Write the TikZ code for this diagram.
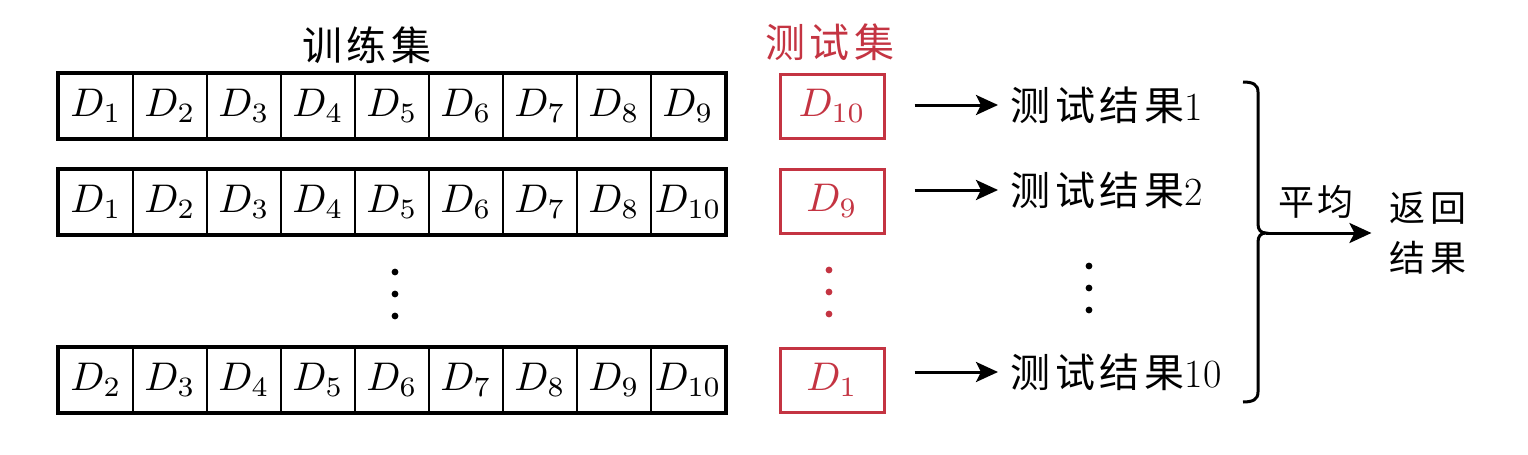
\documentclass[tikz,border=0pt]{standalone}
\usepackage{fontspec}
\newfontfamily\cjk[LetterSpace=12]{Noto Sans CJK SC}
\newfontfamily\cjkb[LetterSpace=6]{Noto Sans CJK SC}
\usetikzlibrary{arrows.meta}
\definecolor{tred}{RGB}{196,52,66}
\newcommand\Dsub[1]{\scalebox{2}{$D_{#1}$}}
\begin{document}
\begin{tikzpicture}[x=0.5pt,y=-0.5pt,
  cell/.style={draw,line width=1.4pt,minimum width=37pt,minimum height=32pt,inner sep=0pt},
  tbox/.style={draw=tred,text=tred,line width=1.5pt,minimum width=52pt,minimum height=32pt,inner sep=0pt},
  res/.style={anchor=west,inner sep=0pt,font=\fontsize{20}{24}\cjk},
  ttl/.style={inner sep=0pt,font=\fontsize{20}{24}\cjk},
  arr/.style={line width=1.5pt,-{Stealth[length=11pt,width=10pt,inset=2.5pt]}},
  dot/.style={circle,fill,inner sep=0pt,minimum size=3.4pt},
  brc/.style={line width=1.5pt}]
\useasboundingbox (0,0) rectangle (1528,455);
% titles
\node[ttl] (train) at (367,45) {训练集};
\node[ttl,text=tred] (test) at (830,42) {测试集};
% row 1
\foreach \lab [count=\i] in {1,2,3,4,5,6,7,8,9}
  \node[cell] (a\i) at ({59+74*(\i-0.5)},106) {\Dsub{\lab}};
\draw[line width=2pt] (a1.north west) rectangle (a9.south east);
% row 2
\foreach \lab [count=\i] in {1,2,3,4,5,6,7,8,10}
  \node[cell] (b\i) at ({59+74*(\i-0.5)},202) {\Dsub{\lab}};
\draw[line width=2pt] (b1.north west) rectangle (b9.south east);
% row 4
\foreach \lab [count=\i] in {2,3,4,5,6,7,8,9,10}
  \node[cell] (c\i) at ({59+74*(\i-0.5)},380) {\Dsub{\lab}};
\draw[line width=2pt] (c1.north west) rectangle (c9.south east);
% test boxes
\node[tbox] (t1) at (832,106) {\Dsub{10}};
\node[tbox] (t2) at (832,201) {\Dsub{9}};
\node[tbox] (t4) at (832,380) {\Dsub{1}};
% results
\node[res] (r1) at (1010,105) {测试结果{\rmfamily 1}};
\node[res] (r2) at (1010,190) {测试结果{\rmfamily 2}};
\node[res] (r4) at (1010,372) {测试结果{\rmfamily 10}};
\draw[arr] ([xshift=14.5pt]t1.east |- r1.west) -- ([xshift=-6pt]r1.west);
\draw[arr] ([xshift=14.5pt]t2.east |- r2.west) -- ([xshift=-6pt]r2.west);
\draw[arr] ([xshift=14.5pt]t4.east |- r4.west) -- ([xshift=-6pt]r4.west);
% dots
\foreach \yy in {272,294,316} \node[dot] at (395,\yy) {};
\foreach \yy in {270,292,314} \node[dot,tred] at (829,\yy) {};
\foreach \yy in {266,288,310} \node[dot] at (1089,\yy) {};
% brace
\coordinate (bt) at (1266,233);
\draw[brc] (1243,82) .. controls (1252,82) and (1258,84) .. (1258,92) -- (1258,224)
  .. controls (1258,230) and (1261,233) .. (bt)
  .. controls (1261,233) and (1258,236) .. (1258,242) -- (1258,392)
  .. controls (1258,400) and (1252,402) .. (1243,402);
% average and return
\node[inner sep=0pt,font=\fontsize{18}{22}\cjkb] (avg) at (1316,202) {平均};
\node[inner sep=0pt,align=center,font=\fontsize{18}{25}\cjk] (ret) at (1428,233) {返回\\结果};
\draw[arr] (bt) -- ([xshift=-9pt]ret.west |- bt);
\end{tikzpicture}
\end{document}
